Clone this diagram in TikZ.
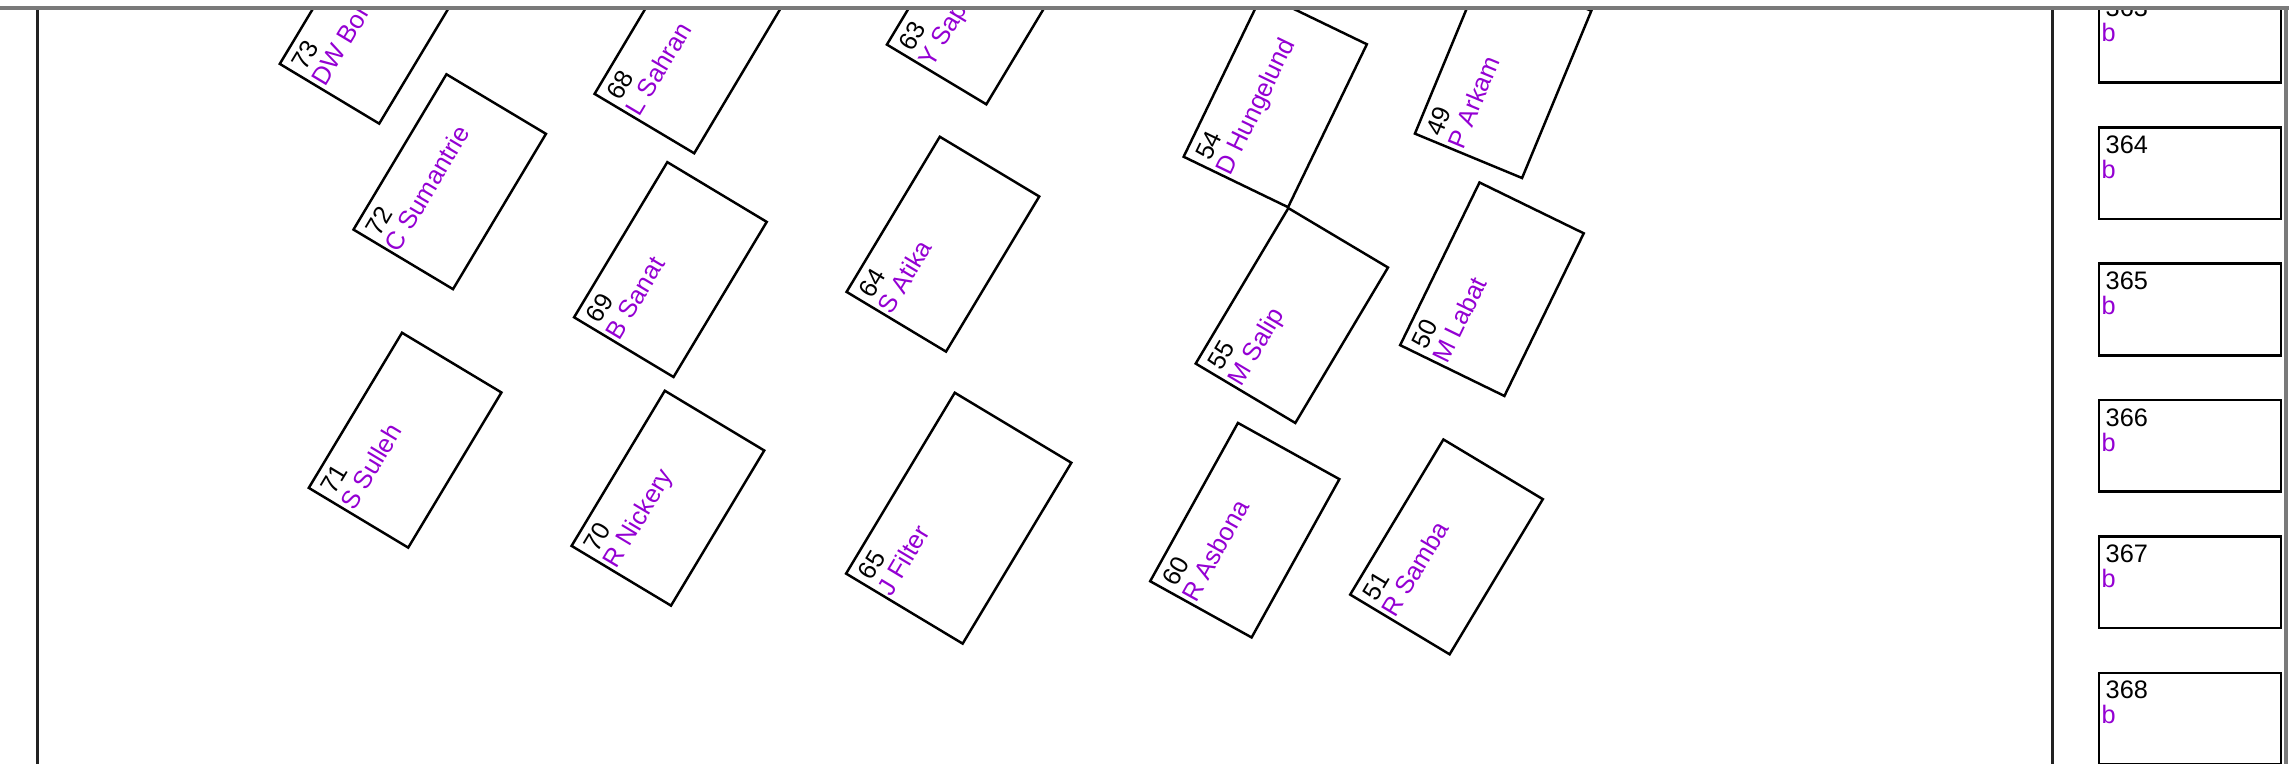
\documentclass[tikz,border=0pt]{standalone}
\usepackage{fontspec}
\setmainfont{Liberation Sans}
\usepackage{tikz}
\usepackage{xcolor}
\definecolor{ink}     {HTML}{000000}
\definecolor{namepurp}{HTML}{9400D3}
\definecolor{wallgrey}{HTML}{7A7A7A}
\definecolor{walldark}{HTML}{222222}
\newcommand{\deskfont}{\fontsize{7.2pt}{8.6pt}\selectfont}
\tikzset{
  deskbox/.style  ={draw=ink, line width=0.7pt, anchor=north west,
                    minimum width=18.1mm, minimum height=11.6mm, inner sep=0pt},
  bigdesk/.style  ={deskbox, minimum width=21.1mm, minimum height=13.6mm},
  stallbox/.style ={draw=ink, line width=0.75pt, anchor=north west,
                    minimum width=18.2mm, minimum height=9.15mm, inner sep=0pt},
  numtext/.style  ={anchor=base west, inner sep=0pt, text=ink, font=\deskfont},
  nametext/.style ={anchor=base west, inner sep=0pt, text=namepurp, font=\deskfont},
  wallline/.style ={draw=walldark, line width=0.7pt},
  edgeline/.style ={draw=wallgrey, line width=1.1pt},
}
\newcommand{\desk}[6][deskbox]{%
  \begin{scope}[shift={(#2,#3)}, rotate=#4, transform shape]
    \node[#1] (desk#5) at (0,0) {};
    \node[numtext]  (num#5)  at (7.3,27.3) {#5};
    \node[nametext] (name#5) at (3.5,52.3) {#6};
  \end{scope}}

\begin{document}
\begin{tikzpicture}[x=0.1mm,y=-0.1mm]
    \useasboundingbox (0,0) rectangle (2289,764);
    \begin{scope}
      \clip (0,9) rectangle (2289,764);
      \desk{278.1}{64.3}{59}{73}{DW Bor}
      \desk{351.8}{230}{59.1}{72}{C Sumantrie}
      \desk{307.1}{488.3}{59}{71}{S Sulleh}
      \desk{592.9}{94.3}{59.2}{68}{L Sahran}
      \desk{572.4}{317.7}{59}{69}{B Sanat}
      \desk{569.9}{546.3}{59}{70}{R Nickery}
      \desk{885.2}{45}{59}{63}{Y Sap}
      \desk{844.9}{292.3}{59}{64}{S Atika}
      \desk[bigdesk]{844.4}{574}{59}{65}{J Filter}
      \desk{1182}{157.3}{64.2}{54}{D Hungelund}
      \desk{1194}{364}{59.2}{55}{M Salip}
      \desk{1148.5}{581.7}{61}{60}{R Asbona}
      \desk{1413.3}{134.3}{67.5}{49}{P Arkam}
      \desk{1398.5}{345.7}{64}{50}{M Labat}
      \desk{1348.5}{595}{59}{51}{R Samba}
      \foreach \k/\ytop in {363/-10.4,364/126,365/262.4,366/398.8,367/535.2,368/671.6}{
        \node[stallbox] (stall\k) at (2097.7,\ytop) {};
        \node[numtext]  (snum\k)  at (2105,\ytop+27.3) {\k};
        \node[nametext] (sname\k) at (2101,\ytop+52.3) {b};
      }
    \end{scope}
    \coordinate (topleft)  at (0,8);
    \coordinate (topright) at (2289,8);
    \draw[wallline] (37.3,8) -- (37.3,764);
    \draw[wallline] (2052.7,8) -- (2052.7,764);
    \draw[edgeline] (2286,8) -- (2286,764);
    \draw[edgeline] (topleft) -- (topright);
  \end{tikzpicture}
\end{document}
